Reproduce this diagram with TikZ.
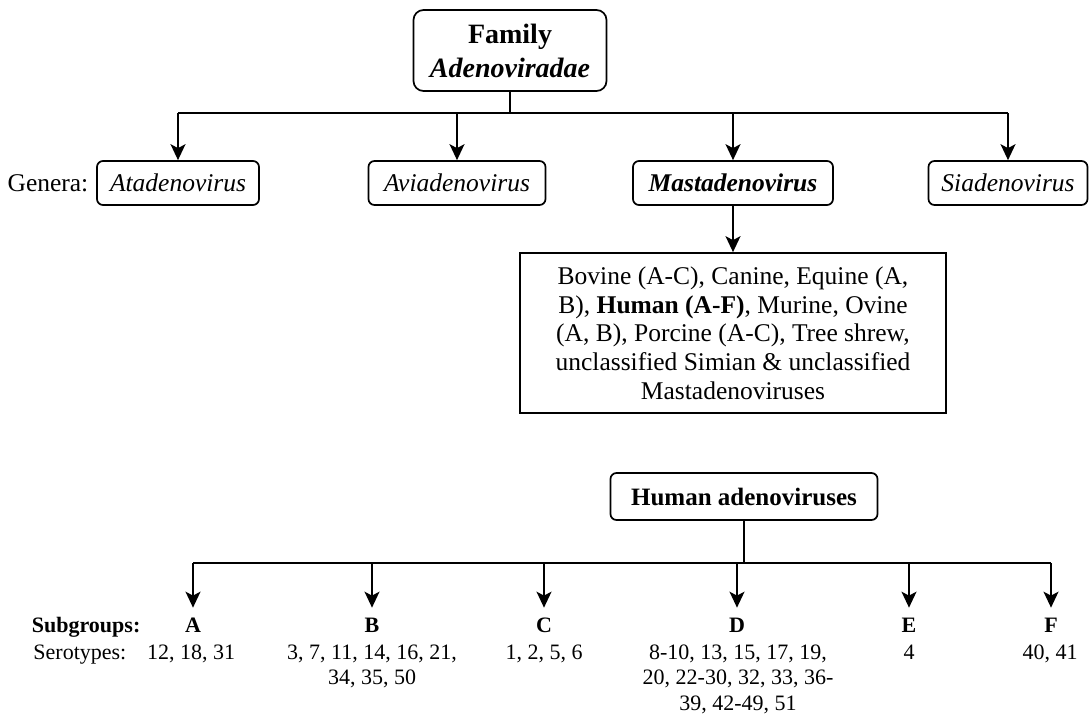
\documentclass[tikz,border=0pt]{standalone}
\usepackage{fontspec}
\setmainfont{Liberation Serif}
\usetikzlibrary{arrows.meta,positioning}

\begin{document}
\begin{tikzpicture}[
  x=1pt, y=-1pt,
  >={Stealth[length=16pt,width=15pt,inset=4pt]},
  line width=1.7pt,
  box/.style={draw, rounded corners=6pt, inner sep=0pt, minimum height=44pt},
  genus/.style={box, font=\fontsize{25.5}{28.7}\selectfont\itshape},
  lbl/.style={inner sep=0pt, font=\fontsize{25.5}{28.7}\selectfont},
  small/.style={inner sep=0pt, align=center, font=\fontsize{22}{25.5}\selectfont},
  subgrp/.style={inner xsep=0pt, inner ysep=9pt, text height=15pt, text depth=0pt,
    font=\fontsize{22}{25.5}\selectfont\bfseries}
]
\useasboundingbox (0,0) rectangle (1091,717);

% Family node
\node[box, rounded corners=10pt, minimum width=193pt, minimum height=81pt, align=center,
  font=\fontsize{28}{34}\selectfont\bfseries] (family) at (510,50.5) {Family\\\textit{Adenoviradae}};

% Genera
\node[genus, minimum width=162pt] (ata) at (178,183) {Atadenovirus};
\node[genus, minimum width=177pt] (avi) at (457,183) {Aviadenovirus};
\node[genus, minimum width=200pt] (mast) at (733,183) {\bfseries Mastadenovirus};
\node[genus, minimum width=159pt] (sia) at (1008,183) {Siadenovirus};
\node[lbl, left=7pt of ata] (genera) {Genera:};

% Family to genera
\coordinate (fork) at (510,113);
\draw (family.south) -- (fork);
\draw (ata |- fork) -- (sia |- fork);
\foreach \g in {ata,avi,mast,sia}
  \draw[->] (\g |- fork) -- (\g.north);

% Mastadenovirus hosts
\node[draw, inner sep=0pt, minimum width=426pt, minimum height=160pt, align=center,
  font=\fontsize{25.5}{28.7}\selectfont] (hosts) at (733,333)
  {Bovine (A-C), Canine, Equine (A,\\
   B), \textbf{Human (A-F)}, Murine, Ovine\\
   (A, B), Porcine (A-C), Tree shrew,\\
   unclassified Simian \& unclassified\\
   Mastadenoviruses};
\draw[->] (mast) -- (hosts);

% Human adenoviruses
\node[box, minimum width=267pt, minimum height=47pt,
  font=\fontsize{25}{28}\selectfont\bfseries] (human) at (744,496.5) {Human adenoviruses};

% Subgroups
\node[subgrp] (sgA) at (193,625) {A};
\node[subgrp] (sgB) at (372,625) {B};
\node[subgrp] (sgC) at (544,625) {C};
\node[subgrp] (sgD) at (737,625) {D};
\node[subgrp] (sgE) at (909,625) {E};
\node[subgrp] (sgF) at (1051,625) {F};
\node[small, font=\fontsize{22}{25.5}\selectfont\bfseries, base left=43pt of sgA] (subgrps) {Subgroups:};

\coordinate (hfork) at (744,563);
\draw (human) -- (hfork);
\draw (sgA |- hfork) -- (sgF |- hfork);
\foreach \s in {A,B,C,D,E,F}
  \draw[->] (sg\s |- hfork) -- (sg\s.north);

% Serotypes
\node[small, anchor=north] (serA) at (191,644) {12, 18, 31};
\node[small, anchor=north] (serB) at (372,644) {3, 7, 11, 14, 16, 21,\\34, 35, 50};
\node[small, anchor=north] (serC) at (544,644) {1, 2, 5, 6};
\node[small, anchor=north] (serD) at (738,644) {8-10, 13, 15, 17, 19,\\20, 22-30, 32, 33, 36-\\39, 42-49, 51};
\node[small, anchor=north] (serE) at (909,644) {4};
\node[small, anchor=north] (serF) at (1050,644) {40, 41};
\node[small, base left=19pt of serA] (serlbl) {Serotypes:};

\end{tikzpicture}
\end{document}
